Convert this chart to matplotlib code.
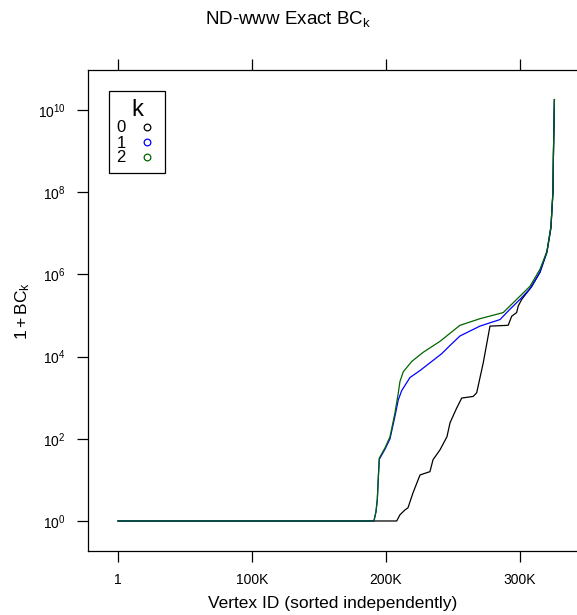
import numpy as np
import matplotlib
matplotlib.use("Agg")
from matplotlib import pyplot as plt
from matplotlib.lines import Line2D

plt.rcParams['font.family'] = ['Liberation Sans', 'DejaVu Sans']
plt.rcParams['mathtext.fontset'] = 'custom'
plt.rcParams['mathtext.rm'] = 'Liberation Sans'
plt.rcParams['mathtext.it'] = 'Liberation Sans:italic'

# vertex position (thousands) and log10(1 + BC_k)
x_k0 = [1e-3, 208.0, 210.4, 214.2, 216.4, 220.1, 225.4, 232.8, 235.1, 240.3, 245.5, 247.8, 252.8, 256.5, 265.1,
        267.7, 272.6, 277.6, 291.2, 293.8, 297.5, 298.7, 301.3, 308.9, 314.9, 320.1, 323.1, 324.6, 324.9, 325.7]
y_k0 = [0, 0, 0.15, 0.27, 0.32, 0.68, 1.12, 1.20, 1.49, 1.73, 2.05, 2.39, 2.75, 2.99, 3.03,
        3.12, 3.85, 4.74, 4.76, 4.98, 5.07, 5.23, 5.39, 5.71, 6.05, 6.54, 7.12, 8.0, 8.8, 10.25]

x_k1 = [1e-3, 191.0, 192.5, 193.5, 194.3, 195.0, 199.3, 203.0, 206.7, 209.2, 211.7, 217.9, 225.4, 241.6,
        247.8, 255.2, 270.1, 285.1, 292.5, 300.0, 307.5, 314.9, 320.1, 323.1, 324.6, 324.9, 325.7]
y_k1 = [0, 0, 0.22, 0.51, 1.07, 1.50, 1.75, 2.0, 2.55, 2.95, 3.17, 3.49, 3.66, 4.07,
        4.27, 4.50, 4.74, 4.90, 5.15, 5.39, 5.65, 6.05, 6.54, 7.15, 8.0, 8.8, 10.25]

x_k2 = [1e-3, 191.0, 192.5, 193.5, 194.3, 195.0, 199.3, 203.0, 206.7, 209.2, 210.4, 212.9, 219.2, 227.6,
        240.3, 255.2, 270.1, 287.5, 297.5, 307.5, 314.9, 320.1, 323.1, 324.6, 324.9, 325.7]
y_k2 = [0, 0, 0.22, 0.51, 1.07, 1.53, 1.78, 2.05, 2.63, 3.12, 3.39, 3.63, 3.88, 4.10,
        4.37, 4.76, 4.92, 5.07, 5.39, 5.71, 6.12, 6.56, 7.17, 8.0, 8.8, 10.25]

k_labels = ['0', '1', '2']
k_colors = ['black', '#0000FF', '#006400']

xtick_pos = [1, 100000, 200000, 300000]
xtick_lab = ['1', '100K', '200K', '300K']
ytick_pos = [1e0, 1e2, 1e4, 1e6, 1e8, 1e10]

fig = plt.figure(figsize=(5.77, 6.15), dpi=100)
ax = fig.add_axes([88/577, 1 - 551/615, 490/577, 481/615])

series = [(x_k0, y_k0), (x_k1, y_k1), (x_k2, y_k2)]
for (xs, ys), col in zip(series, k_colors):
    ax.plot(np.array(xs) * 1000, 10 ** np.array(ys), color=col, lw=0.9)

ax.set_yscale('log')
ax.set_xlim(-22.4e3, 343.3e3)
ax.set_ylim(10 ** -0.73, 10 ** 10.97)
ax.set_xticks(xtick_pos, xtick_lab)
ax.set_yticks(ytick_pos)
ax.yaxis.set_minor_locator(matplotlib.ticker.NullLocator())
ax.tick_params(axis='both', which='major', direction='out', length=8, width=0.9,
               labelsize=10, top=True, right=True, pad=8)
for s in ax.spines.values():
    s.set_linewidth(0.9)

ax.set_xlabel('Vertex ID (sorted independently)', fontsize=12.5, labelpad=6)
ax.set_ylabel(r'$1 + \mathrm{BC}_\mathrm{k}$', fontsize=12.5, labelpad=4)
fig.text(0.5, 1 - 19/615, r'ND-www Exact BC$_\mathrm{k}$', ha='center', va='center', fontsize=13.5)

handles = [Line2D([], [], ls='none', marker='o', mfc='none', mec=c, ms=4.8, mew=0.9) for c in k_colors]
leg = ax.legend(handles, k_labels, title='k', loc='upper left', bbox_to_anchor=(21/490, 1 - 21/481),
                markerfirst=False, fancybox=False, framealpha=1, edgecolor='black', fontsize=12,
                title_fontsize=17, handlelength=1.25, handletextpad=0.65, labelspacing=0.0,
                borderpad=0.45, borderaxespad=0)
leg.get_frame().set_linewidth(0.9)

fig.savefig('out.png', dpi=100)
